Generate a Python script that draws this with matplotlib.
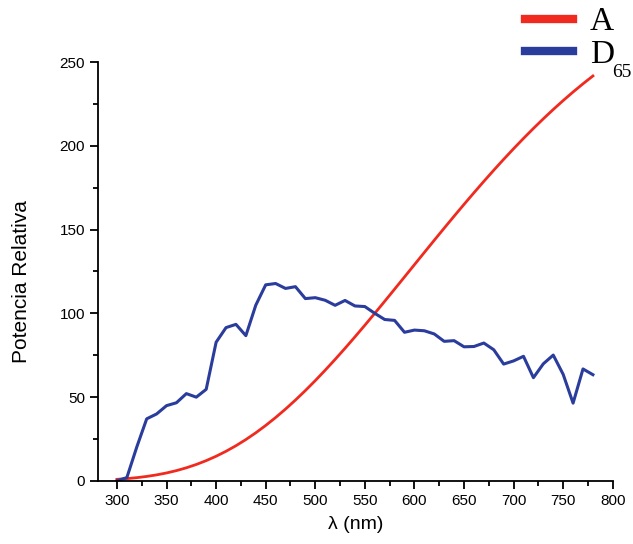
import numpy as np
import matplotlib.pyplot as plt
from matplotlib.ticker import MultipleLocator

wavelength = np.arange(300, 781, 10)

illum_a = [0.93, 1.36, 1.93, 2.67, 3.59, 4.74, 6.14, 7.82, 9.80, 12.09,
           14.71, 17.68, 20.99, 24.67, 28.70, 33.09, 37.81, 42.87, 48.24, 53.91,
           59.86, 66.06, 72.50, 79.13, 85.95, 92.91, 100.00, 107.18, 114.44, 121.73,
           129.04, 136.35, 143.62, 150.84, 157.98, 165.03, 171.96, 178.77, 185.43, 191.93,
           198.26, 204.41, 210.36, 216.12, 221.67, 227.00, 232.12, 237.01, 241.68]

illum_d65 = [0.03, 2.0, 20.24, 37.05, 39.95, 44.91, 46.64, 52.09, 49.98, 54.65,
             82.75, 91.49, 93.43, 86.68, 104.86, 117.01, 117.81, 114.86, 115.92, 108.81,
             109.35, 107.80, 104.79, 107.69, 104.41, 104.05, 100.00, 96.33, 95.79, 88.69,
             90.01, 89.60, 87.70, 83.29, 83.70, 80.03, 80.21, 82.28, 78.28, 69.72,
             71.61, 74.35, 61.60, 69.89, 75.09, 63.59, 46.42, 66.81, 63.38]

plt.rcParams['font.family'] = ['Liberation Sans', 'DejaVu Sans']

fig = plt.figure(figsize=(6.33, 5.44), dpi=100)
ax = fig.add_axes([0.155, 0.116, 0.813, 0.770])

ax.plot(wavelength, illum_a, color='#f02a1e', lw=2.0, label='A')
ax.plot(wavelength, illum_d65, color='#2a3c9c', lw=2.2, label='D')

ax.set_xlim(281, 800)
ax.set_ylim(0, 250)
ax.xaxis.set_minor_locator(MultipleLocator(25))
ax.yaxis.set_major_locator(MultipleLocator(50))
ax.yaxis.set_minor_locator(MultipleLocator(25))
ax.set_xticks(np.arange(300, 801, 50))

for s in ['top', 'right']:
    ax.spines[s].set_visible(False)
for s in ['left', 'bottom']:
    ax.spines[s].set_linewidth(1.3)
ax.tick_params(which='major', length=6, width=1.3, labelsize=11)
ax.tick_params(which='minor', length=3.5, width=1.3)

ax.set_xlabel('λ (nm)', fontsize=14, labelpad=6)
ax.set_ylabel('Potencia Relativa', fontsize=15)
ax.yaxis.set_label_coords(-0.13, 0.477)

leg = fig.legend(loc='upper left', bbox_to_anchor=(525 / 633, 1 - 7 / 544), frameon=False,
                 prop={'family': 'Liberation Serif', 'size': 24},
                 handlelength=1.45, handletextpad=0.5, labelspacing=0.06,
                 borderpad=0, borderaxespad=0)
for line in leg.get_lines():
    line.set_linewidth(6)

# subscript of D65, placed after the legend's "D"
fig.text(612 / 633, 1 - 77 / 544, '65', family='Liberation Serif', fontsize=14,
         ha='left', va='baseline')

fig.savefig('out.png', dpi=100)
